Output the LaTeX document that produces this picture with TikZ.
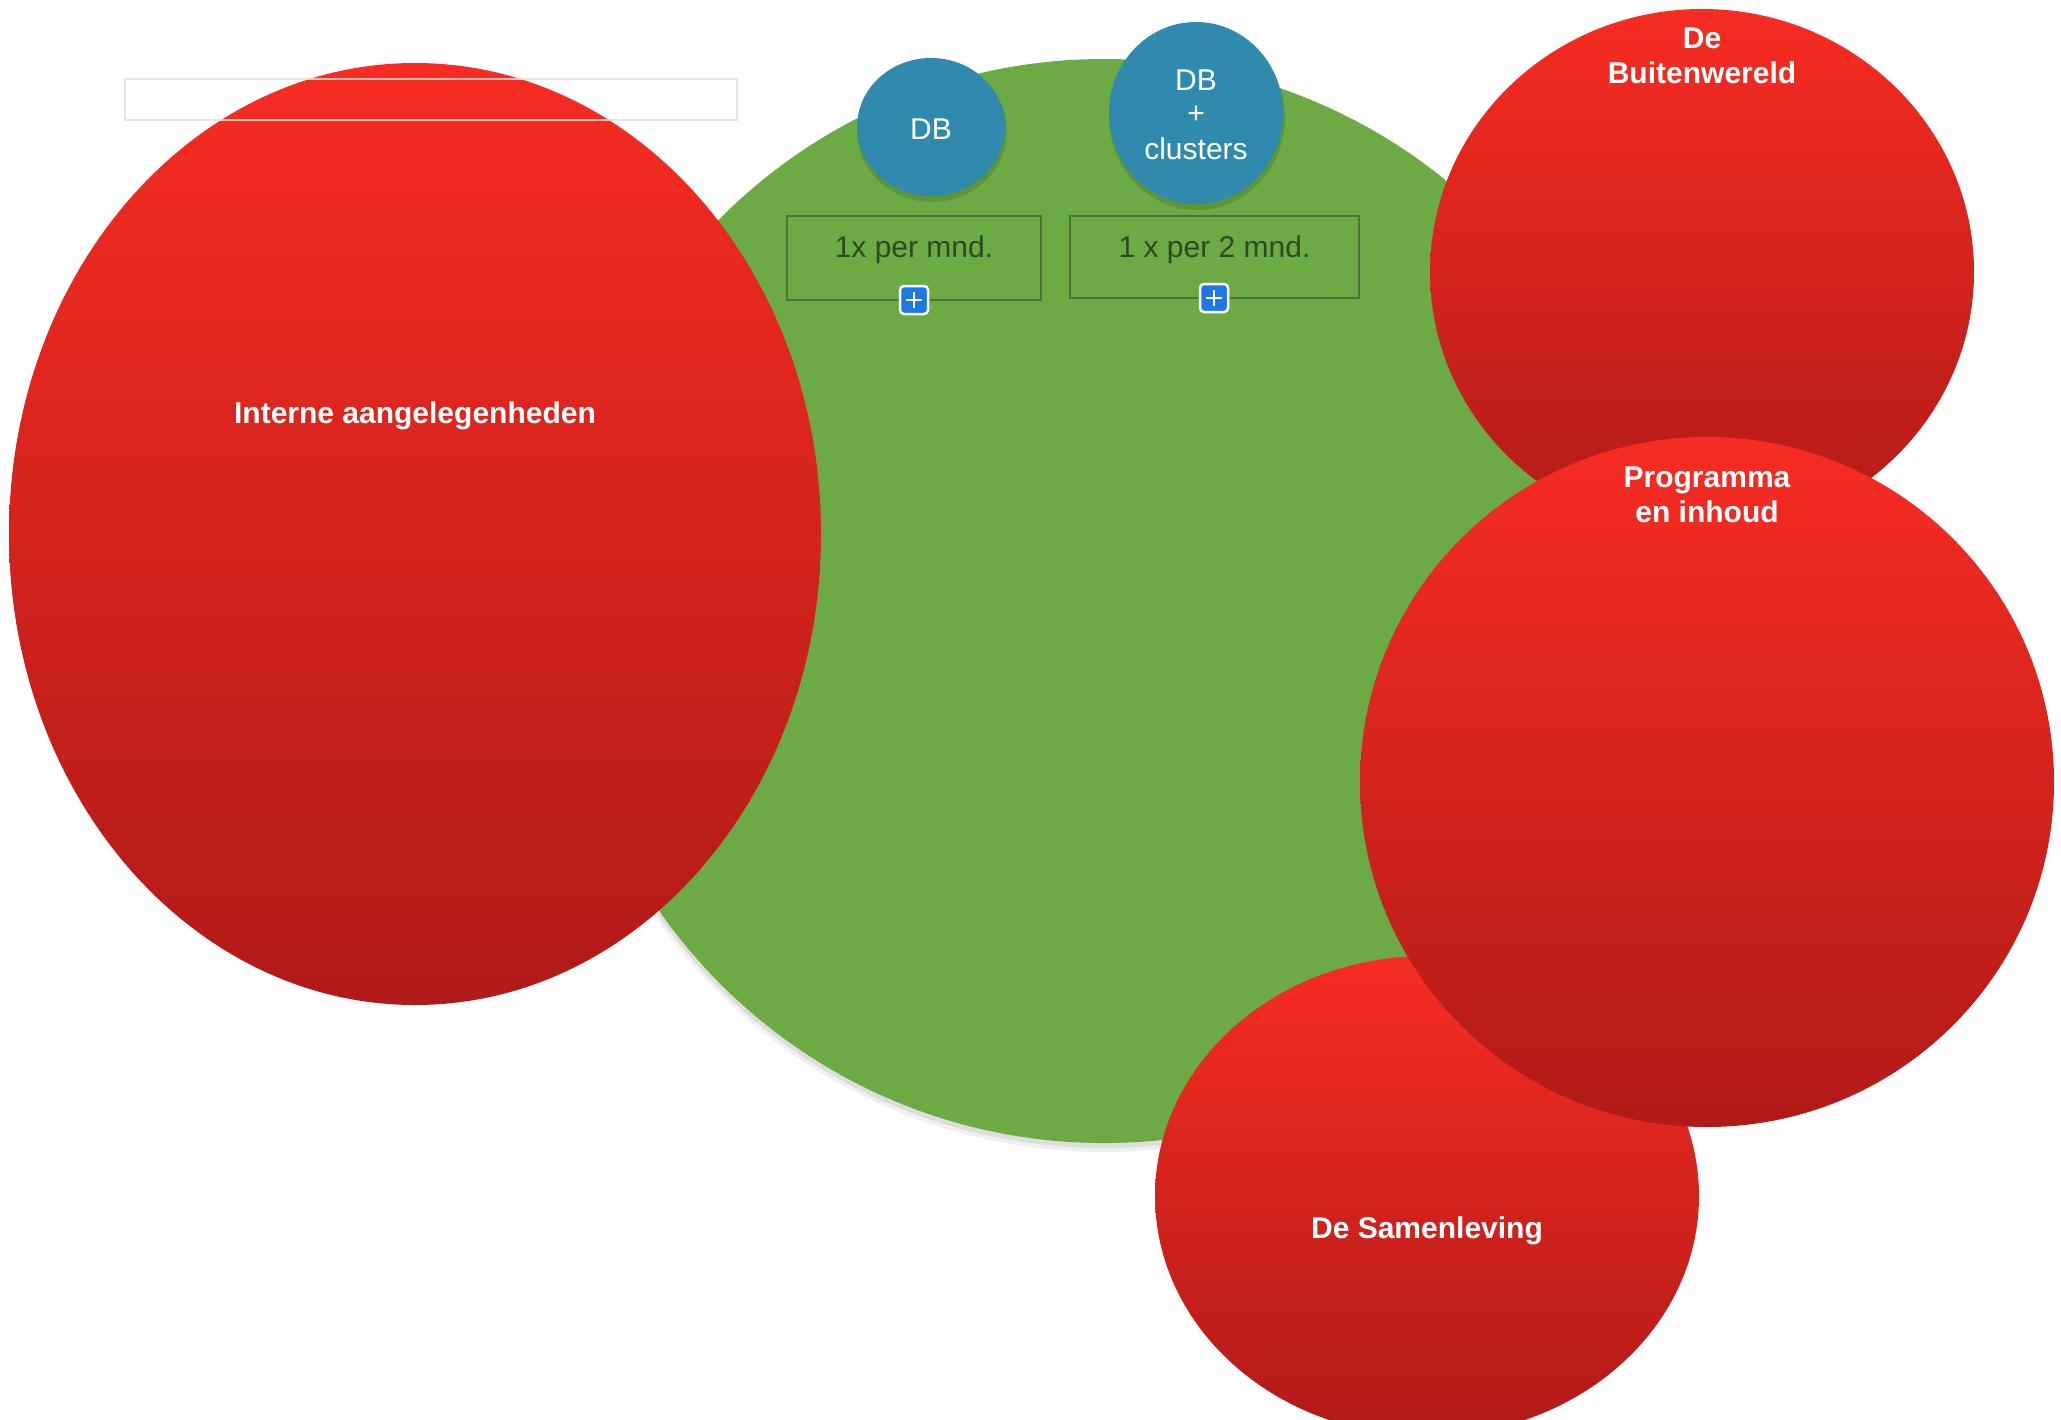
\documentclass[tikz,border=0pt]{standalone}
\usepackage{fontspec}
\setmainfont{Liberation Sans}
\usetikzlibrary{shapes.geometric}
\definecolor{redtop}{HTML}{F72C22}
\definecolor{redbot}{HTML}{B01A18}
\definecolor{grn}{HTML}{6CAA44}
\definecolor{blu}{HTML}{2F8AAE}
\definecolor{boxline}{HTML}{4A6338}
\definecolor{boxtext}{HTML}{2E4A24}
\definecolor{plusblue}{HTML}{1C78E6}
\tikzset{
  redblob/.style={ellipse, inner sep=0pt, outer sep=0pt, top color=redtop, bottom color=redbot, draw=none},
  blueblob/.style={ellipse, inner sep=0pt, outer sep=0pt, fill=blu, draw=none},
  shadowblob/.style={ellipse, inner sep=0pt, outer sep=0pt, fill=black, opacity=0.05, draw=none},
  lbl/.style={text=white, font=\fontsize{30}{35}\selectfont\bfseries, align=center, inner sep=0pt},
  bluelbl/.style={text=white, font=\fontsize{30}{35}\selectfont, align=center, inner sep=0pt},
  freqbox/.style={rectangle, draw=boxline, draw opacity=0.8, line width=1.5pt, inner sep=0pt},
  freqtext/.style={text=boxtext, font=\fontsize{30}{35}\selectfont, inner sep=0pt},
  plusicon/.style={rectangle, rounded corners=4pt, minimum size=28pt, inner sep=0pt, fill=plusblue, draw=white, line width=2.5pt,
    path picture={\draw[white, line width=2pt] ([xshift=-8pt]path picture bounding box.center) -- ([xshift=8pt]path picture bounding box.center);
                  \draw[white, line width=2pt] ([yshift=-8pt]path picture bounding box.center) -- ([yshift=8pt]path picture bounding box.center);}},
}
\begin{document}
\begin{tikzpicture}[x=1pt, y=-1pt]
\useasboundingbox (0,0) rectangle (2061,1419);
% green circle with soft shadow
\node[shadowblob, minimum width=1090pt, minimum height=1090pt, opacity=0.06] (gs1) at (1104,607) {};
\node[shadowblob, minimum width=1086pt, minimum height=1086pt, opacity=0.08] (gs2) at (1104,605) {};
\node[ellipse, inner sep=0pt, fill=grn, minimum width=1084pt, minimum height=1084pt] (green) at (1104,601) {};
% blue circles
\node[shadowblob, minimum width=150pt, minimum height=142pt, opacity=0.12] (dbs) at (932,131) {};
\node[blueblob, minimum width=148pt, minimum height=138pt] (db) at (931,127) {};
\node[bluelbl] (dbt) at (931,129) {DB};
\node[shadowblob, minimum width=176pt, minimum height=186pt, opacity=0.12] (dbcs) at (1197,117) {};
\node[blueblob, minimum width=174pt, minimum height=182pt] (dbc) at (1196,113) {};
\node[bluelbl] (dbct1) at (1196,80) {DB};
\node[bluelbl] (dbct2) at (1196,115) {+};
\node[bluelbl] (dbct3) at (1196,149) {clusters};
% frequency boxes
\node[freqbox, minimum width=254pt, minimum height=84pt] (box1) at (914,258) {};
\node[freqtext] (box1t) at (914,250) {1x per mnd.};
\node[freqbox, minimum width=289pt, minimum height=82pt] (box2) at (1214.5,257) {};
\node[freqtext] (box2t) at (1214.5,250) {1 x per 2 mnd.};
\node[plusicon] (plus1) at (914,300) {};
\node[plusicon] (plus2) at (1214,298) {};
% red blobs
\node[redblob, minimum width=812pt, minimum height=942pt] (interne) at (415,534) {};
\node[lbl] (internet) at (415,416) {Interne aangelegenheden};
\node[redblob, minimum width=544pt, minimum height=526pt] (buiten) at (1702,272) {};
\node[lbl, anchor=north] (buitent) at (1702,28) {De\\Buitenwereld};
\node[redblob, minimum width=544pt, minimum height=480pt] (samen) at (1427,1196) {};
\node[lbl] (sament) at (1427,1231) {De Samenleving};
\node[redblob, minimum width=694pt, minimum height=690pt] (prog) at (1707,782) {};
\node[lbl, anchor=north] (progt) at (1707,467) {Programma\\en inhoud};
% empty box top left
\node[rectangle, draw=gray!25, line width=2pt, draw opacity=0.8, inner sep=0pt, minimum width=612pt, minimum height=41pt] (emptybox) at (431,99.5) {};
\end{tikzpicture}
\end{document}
